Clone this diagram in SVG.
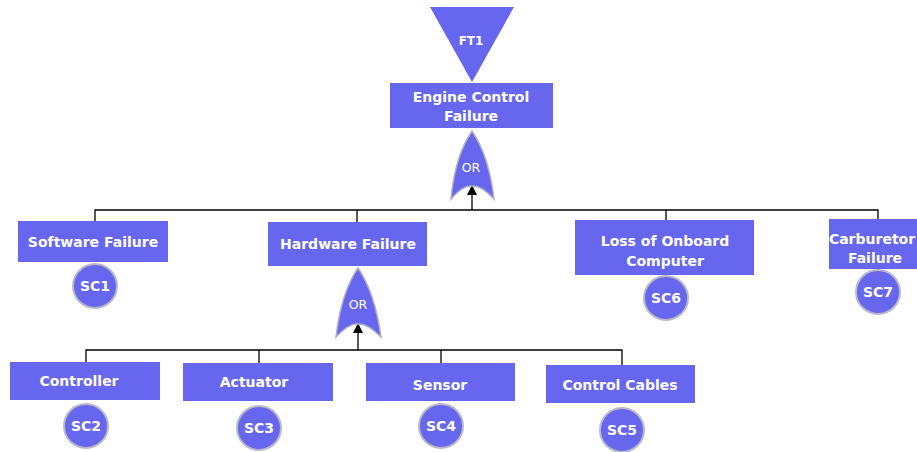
<svg xmlns="http://www.w3.org/2000/svg" width="917" height="452" viewBox="0 0 917 452">
<style>
.box{fill:#6666EE;}
.t{font-family:"DejaVu Sans",Verdana,sans-serif;font-weight:bold;font-size:14px;fill:#ffffff;text-anchor:middle;}
.ts{font-family:"DejaVu Sans",Verdana,sans-serif;font-weight:bold;font-size:12px;fill:#ffffff;text-anchor:middle;}
.tg{font-family:"DejaVu Sans",Verdana,sans-serif;font-size:12.5px;fill:#ffffff;text-anchor:middle;}
.circ{fill:#6666EE;stroke:#b8b8c8;stroke-width:2;}
.gate{fill:#6666EE;stroke:#b0b0c0;stroke-width:1.5;}
.ln{stroke:#000;stroke-width:1.3;fill:none;}
</style>
<defs>
<marker id="ah" markerWidth="10" markerHeight="10" refX="5" refY="5" orient="auto" markerUnits="userSpaceOnUse">
<path d="M0,0 L10,5 L0,10 Z" fill="#000"/>
</marker>
</defs>
<rect width="917" height="452" fill="#ffffff"/>
<g id="connectors">
<path class="ln" d="M95,222 V210 H878 V219"/>
<path class="ln" d="M357,210 V222"/>
<path class="ln" d="M666,210 V220"/>
<path class="ln" d="M472,210 V190" marker-end="url(#ah)"/>
<path class="ln" d="M86,362 V350 H622 V365"/>
<path class="ln" d="M259,350 V363"/>
<path class="ln" d="M441,350 V363"/>
<path class="ln" d="M358,350 V328" marker-end="url(#ah)"/>
</g>
<g id="ft1">
<path class="box" d="M430,7 L514,7 L472,82 Z"/>
<text class="ts" x="471" y="45">FT1</text>
</g>
<g id="engine">
<rect class="box" x="390" y="83" width="163" height="45"/>
<text class="t" x="471" y="102">Engine Control</text>
<text class="t" x="471" y="121">Failure</text>
</g>
<g id="or1">
<path class="gate" d="M472,131 Q489,156 494,199 Q481,185 472,186 Q463,185 451,199 Q455,156 472,131 Z"/>
<text class="tg" x="471" y="172">OR</text>
</g>
<g id="software">
<rect class="box" x="18" y="221" width="150" height="41"/>
<text class="t" x="93" y="247">Software Failure</text>
<circle class="circ" cx="95" cy="286" r="22"/>
<text class="t" x="95" y="291">SC1</text>
</g>
<g id="hardware">
<rect class="box" x="268" y="222" width="159" height="44"/>
<text class="t" x="348" y="249">Hardware Failure</text>
</g>
<g id="or2">
<path class="gate" d="M358,268 Q375,293 381,337 Q367,323 358,324 Q349,323 336,337 Q341,293 358,268 Z"/>
<text class="tg" x="358" y="309">OR</text>
</g>
<g id="loss">
<rect class="box" x="575" y="220" width="179" height="55"/>
<text class="t" x="665" y="246">Loss of Onboard</text>
<text class="t" x="665" y="266">Computer</text>
<circle class="circ" cx="666" cy="298" r="22"/>
<text class="t" x="666" y="303">SC6</text>
</g>
<g id="carb">
<rect class="box" x="829" y="219" width="92" height="50"/>
<text class="t" x="872" y="244" font-size="13.5">Carburetor</text>
<text class="t" x="875" y="263">Failure</text>
<circle class="circ" cx="878" cy="292" r="22"/>
<text class="t" x="878" y="297">SC7</text>
</g>
<g id="controller">
<rect class="box" x="10" y="362" width="150" height="38"/>
<text class="t" x="79" y="386">Controller</text>
<circle class="circ" cx="86" cy="426" r="22"/>
<text class="t" x="86" y="431">SC2</text>
</g>
<g id="actuator">
<rect class="box" x="183" y="363" width="150" height="38"/>
<text class="t" x="254" y="387">Actuator</text>
<circle class="circ" cx="259" cy="428" r="22"/>
<text class="t" x="259" y="433">SC3</text>
</g>
<g id="sensor">
<rect class="box" x="366" y="363" width="149" height="38"/>
<text class="t" x="440" y="390">Sensor</text>
<circle class="circ" cx="441" cy="426" r="22"/>
<text class="t" x="441" y="431">SC4</text>
</g>
<g id="cables">
<rect class="box" x="546" y="365" width="149" height="38"/>
<text class="t" x="620" y="390">Control Cables</text>
<circle class="circ" cx="622" cy="430" r="22"/>
<text class="t" x="622" y="435">SC5</text>
</g>
</svg>
